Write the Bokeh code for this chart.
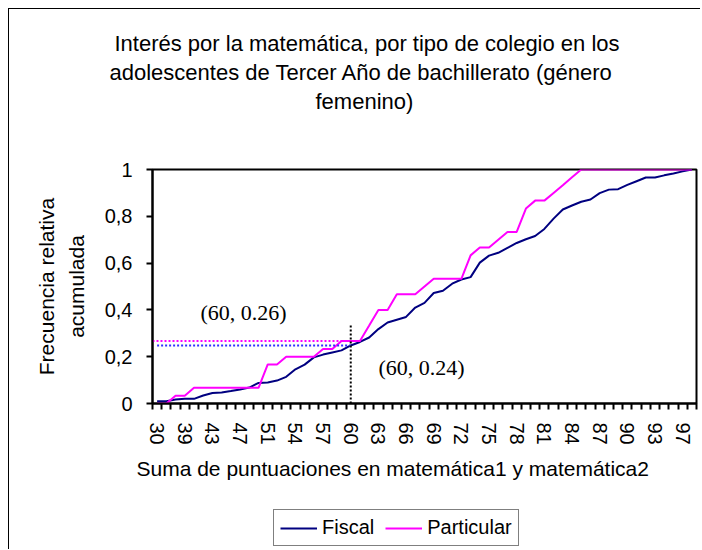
from bokeh.plotting import figure
from bokeh.layouts import column
from bokeh.models import Range1d, FixedTicker, Label, Legend, LegendItem, Title
from bokeh.embed import file_html
from bokeh.resources import INLINE

# ---- data -------------------------------------------------------------
categories = ["30", "36", "38", "39", "40", "42", "43", "44", "46", "47", "48", "50",
              "51", "52", "53", "54", "55", "56", "57", "58", "59", "60", "61", "62",
              "63", "64", "65", "66", "67", "68", "69", "70", "71", "72", "73", "74",
              "75", "76", "77", "78", "79", "80", "81", "82", "83", "84", "85", "86",
              "87", "88", "89", "90", "91", "92", "93", "95", "96", "97", "98"]

fiscal = [0.01, 0.01, 0.017, 0.02, 0.02, 0.034, 0.045, 0.047, 0.053, 0.06, 0.068, 0.088,
          0.09, 0.098, 0.114, 0.146, 0.166, 0.197, 0.209, 0.218, 0.227, 0.248, 0.263, 0.282,
          0.318, 0.346, 0.358, 0.37, 0.41, 0.43, 0.472, 0.482, 0.512, 0.53, 0.54, 0.602,
          0.632, 0.644, 0.665, 0.686, 0.702, 0.716, 0.746, 0.79, 0.829, 0.846, 0.862, 0.872,
          0.899, 0.914, 0.916, 0.934, 0.95, 0.966, 0.966, 0.975, 0.983, 0.992, 1.0]

particular = [0.0, 0.0, 0.033, 0.033, 0.067, 0.067, 0.067, 0.067, 0.067, 0.067, 0.067, 0.067,
              0.167, 0.167, 0.2, 0.2, 0.2, 0.2, 0.233, 0.233, 0.267, 0.267, 0.267, 0.333,
              0.4, 0.4, 0.467, 0.467, 0.467, 0.5, 0.533, 0.533, 0.533, 0.533, 0.633, 0.667,
              0.667, 0.7, 0.733, 0.733, 0.833, 0.867, 0.867, 0.9, 0.933, 0.967, 1.0, 1.0,
              1.0, 1.0, 1.0, 1.0, 1.0, 1.0, 1.0, 1.0, 1.0, 1.0, 1.0]

series_names = ["Fiscal", "Particular"]
series_colors = ["#000080", "#FF00FF"]
y_ticks = [0, 0.2, 0.4, 0.6, 0.8, 1]
y_tick_labels = ["0", "0,2", "0,4", "0,6", "0,8", "1"]
label_step = 3

marked_category = "60"
marked_vertical_top = 0.34
annot_particular = "(60, 0.26)"
annot_fiscal = "(60, 0.24)"

title_lines = ["Interés por la matemática, por tipo de colegio en los",
               "adolescentes de Tercer Año de  bachillerato (género",
               "femenino)"]
y_title_lines = ["Frecuencia relativa", "acumulada"]
x_title = "Suma de puntuaciones en matemática1 y matemática2"

# ---- main figure --------------------------------------------------------
SANS = "Liberation Sans"
SERIF = "Liberation Serif"
n = len(categories)
xs = list(range(n))

p = figure(width=691, height=490, output_backend="svg", toolbar_location=None,
           x_range=Range1d(-0.5, n - 0.5), y_range=Range1d(0, 1),
           min_border_left=143, min_border_right=4, min_border_top=160,
           min_border_bottom=96, background_fill_color="white",
           border_fill_color="white")
p.grid.visible = False
p.outline_line_color = "black"
p.outline_line_width = 2

# x axis: ticks at category boundaries, labels every 3rd category
xa = p.xaxis[0]
xa.ticker = FixedTicker(ticks=list(range(0, n, label_step)),
                        minor_ticks=[i - 0.5 for i in range(n + 1)])
xa.major_label_overrides = {i: categories[i] for i in range(0, n, label_step)}
xa.major_label_orientation = "vertical"
xa.major_tick_line_color = None
xa.major_tick_out = 0
xa.major_tick_in = 0
xa.minor_tick_out = 6
xa.minor_tick_in = 0
xa.minor_tick_line_color = "black"
xa.minor_tick_line_width = 2
xa.axis_line_color = "black"
xa.axis_line_width = 2
xa.major_label_standoff = 13
xa.major_label_text_font = SANS
xa.major_label_text_font_size = "20px"
xa.major_label_text_color = "black"

ya = p.yaxis[0]
ya.ticker = FixedTicker(ticks=y_ticks)
ya.major_label_overrides = {t: lab for t, lab in zip(y_ticks, y_tick_labels)}
ya.major_tick_out = 6
ya.major_tick_in = 0
ya.major_tick_line_color = "black"
ya.major_tick_line_width = 2
ya.minor_tick_line_color = None
ya.axis_line_color = "black"
ya.axis_line_width = 2
ya.major_label_standoff = 14
ya.major_label_text_font = SANS
ya.major_label_text_font_size = "20px"
ya.major_label_text_color = "black"
ya.axis_label = y_title_lines[1]
ya.axis_label_standoff = 14
ya.axis_label_text_font = SANS
ya.axis_label_text_font_size = "21px"
ya.axis_label_text_font_style = "normal"
ya.axis_label_text_color = "black"

p.add_layout(Title(text=y_title_lines[0], align="center", standoff=7,
                   text_font=SANS, text_font_size="21px", text_font_style="normal",
                   text_color="black"), "left")

# data lines
r_f = p.line(xs, fiscal, line_color=series_colors[0], line_width=2)
r_p = p.line(xs, particular, line_color=series_colors[1], line_width=2)

# reference lines at category 60
i60 = categories.index(marked_category)
p.line([-0.5, i60], [particular[i60], particular[i60]], line_color="#FF00FF",
       line_width=2, line_dash="2 2")
p.line([0, i60], [fiscal[i60], fiscal[i60]], line_color="#3030FF",
       line_width=2, line_dash="2 2")
p.line([i60, i60], [0, marked_vertical_top], line_color="black",
       line_width=2, line_dash="2 2")

# point annotations inside the plot area
p.add_layout(Label(x=91, y=91, x_units="screen", y_units="screen", text=annot_particular,
                   text_font=SERIF, text_font_size="22px", text_color="black",
                   text_align="center", text_baseline="middle"))
p.add_layout(Label(x=269, y=36, x_units="screen", y_units="screen", text=annot_fiscal,
                   text_font=SERIF, text_font_size="22px", text_color="black",
                   text_align="center", text_baseline="middle"))

# blank gap between plot and title
p.add_layout(Title(text=" ", standoff=42, text_font=SANS, text_font_size="10px"), "above")

# chart title: three lines (first added = closest to the plot)
for txt, off in zip(reversed(title_lines), [163, -43, -38]):
    p.add_layout(Title(text=txt, align="left", offset=off, standoff=2,
                       text_font=SANS, text_font_size="22px", text_font_style="normal",
                       text_color="black"), "above")

# x axis title
p.add_layout(Title(text=x_title, align="left", offset=-16, standoff=14,
                   text_font=SANS, text_font_size="21px", text_font_style="normal",
                   text_color="black"), "below")

# ---- legend strip -------------------------------------------------------
q = figure(width=691, height=50, output_backend="svg", toolbar_location=None,
           x_range=Range1d(-0.5, n - 0.5), y_range=Range1d(5, 6), min_border=0,
           x_axis_location=None, y_axis_location=None,
           background_fill_color="white", border_fill_color="white")
q.grid.visible = False
q.outline_line_color = None
lr = [q.line(xs, ser, line_color=c, line_width=2)
      for ser, c in zip([fiscal, particular], series_colors)]
legend = Legend(items=[LegendItem(label=nm, renderers=[r]) for nm, r in zip(series_names, lr)],
                orientation="horizontal", location=(121, 3),
                border_line_color="black", border_line_width=1,
                background_fill_color="white", background_fill_alpha=1,
                label_text_font=SANS, label_text_font_size="20px",
                label_text_color="black", glyph_width=37, glyph_height=20,
                label_standoff=5, spacing=11, padding=6, margin=0)
q.add_layout(legend)

layout = column(p, q, spacing=0)
layout.styles = {"border-top": "1px solid black", "border-left": "1px solid black",
                 "margin": "8px 0 0 8px"}

open("out.html", "w").write(file_html(layout, INLINE))
